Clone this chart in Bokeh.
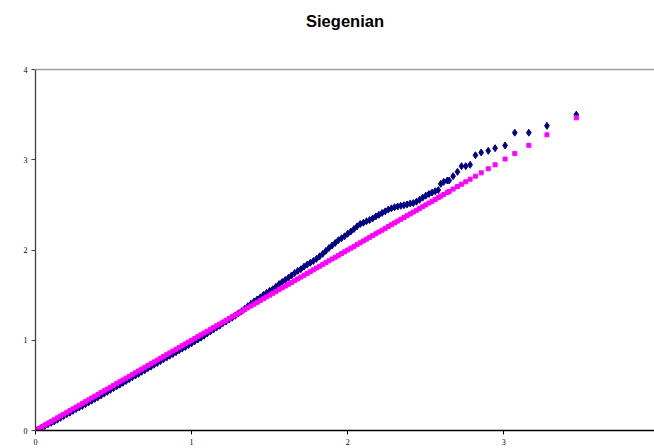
from bokeh.plotting import figure
from bokeh.models import Range1d, FixedTicker, Span, ColumnDataSource, Label
from bokeh.embed import file_html
from bokeh.resources import INLINE

title_text = "Siegenian"
x_ticks = [0, 1, 2, 3]
y_ticks = [0, 1, 2, 3, 4]

# theoretical quantiles (x)
quantiles = [
    0.00, 0.02, 0.04, 0.06, 0.08, 0.10, 0.12, 0.14, 0.16, 0.18,
    0.20, 0.22, 0.24, 0.26, 0.28, 0.30, 0.32, 0.34, 0.36, 0.38,
    0.40, 0.42, 0.44, 0.46, 0.48, 0.50, 0.52, 0.54, 0.56, 0.58,
    0.60, 0.62, 0.64, 0.66, 0.68, 0.70, 0.72, 0.74, 0.76, 0.78,
    0.80, 0.82, 0.84, 0.86, 0.88, 0.90, 0.92, 0.94, 0.96, 0.98,
    1.00, 1.02, 1.04, 1.06, 1.08, 1.10, 1.12, 1.14, 1.16, 1.18,
    1.20, 1.22, 1.24, 1.26, 1.28, 1.30, 1.32, 1.34, 1.36, 1.38,
    1.40, 1.42, 1.44, 1.46, 1.48, 1.50, 1.52, 1.54, 1.56, 1.58,
    1.60, 1.62, 1.64, 1.66, 1.68, 1.70, 1.72, 1.74, 1.76, 1.78,
    1.80, 1.82, 1.84, 1.86, 1.88, 1.90, 1.92, 1.94, 1.96, 1.98,
    2.00, 2.02, 2.04, 2.06, 2.08, 2.10, 2.12, 2.14, 2.16, 2.18,
    2.20, 2.22, 2.24, 2.26, 2.28, 2.30, 2.32, 2.34, 2.36, 2.38,
    2.40, 2.42, 2.44, 2.46, 2.48, 2.50, 2.52, 2.54, 2.56, 2.58,
    2.596, 2.615, 2.638, 2.65, 2.675, 2.703, 2.729, 2.756, 2.784, 2.818,
    2.855, 2.90, 2.944, 3.008, 3.07, 3.16, 3.276, 3.464,
]

# observed values (navy diamonds)
observed = [
    0.000, 0.010, 0.030, 0.050, 0.070, 0.085, 0.100, 0.120, 0.140, 0.160,
    0.180, 0.198, 0.218, 0.237, 0.255, 0.272, 0.292, 0.311, 0.330, 0.350,
    0.368, 0.388, 0.409, 0.428, 0.450, 0.470, 0.489, 0.508, 0.529, 0.548,
    0.569, 0.590, 0.609, 0.628, 0.650, 0.668, 0.690, 0.708, 0.729, 0.748,
    0.768, 0.790, 0.808, 0.829, 0.848, 0.868, 0.889, 0.908, 0.926, 0.947,
    0.966, 0.988, 1.008, 1.029, 1.050, 1.076, 1.096, 1.118, 1.140, 1.161,
    1.188, 1.208, 1.230, 1.250, 1.272, 1.298, 1.322, 1.348, 1.378, 1.405,
    1.430, 1.452, 1.475, 1.502, 1.525, 1.548, 1.566, 1.592, 1.622, 1.645,
    1.668, 1.692, 1.718, 1.745, 1.768, 1.788, 1.815, 1.838, 1.858, 1.878,
    1.902, 1.930, 1.958, 1.990, 2.022, 2.050, 2.078, 2.108, 2.130, 2.152,
    2.180, 2.205, 2.232, 2.262, 2.288, 2.302, 2.318, 2.332, 2.350, 2.372,
    2.390, 2.410, 2.428, 2.448, 2.462, 2.474, 2.482, 2.490, 2.496, 2.505,
    2.516, 2.520, 2.535, 2.556, 2.580, 2.602, 2.620, 2.636, 2.652, 2.664,
    2.733, 2.755, 2.770, 2.770, 2.818, 2.866, 2.929, 2.929, 2.944, 3.050,
    3.080, 3.099, 3.128, 3.158, 3.300, 3.300, 3.376, 3.500,
]

# expected values (magenta squares), equal to the quantiles
expected = list(quantiles)

src = ColumnDataSource(dict(x=quantiles, obs=observed, exp=expected))

X_END = 3.965
Y_TOP = 4 + 69 / 90.25  # extra room above the plot area for the title

p = figure(width=654, height=448, x_range=Range1d(0, X_END), y_range=Range1d(0, Y_TOP),
           output_backend="svg", toolbar_location=None, title_location=None,
           min_border_left=35, min_border_right=0, min_border_top=0, min_border_bottom=18)

p.grid.visible = False
p.outline_line_color = None
p.background_fill_color = "white"
p.border_fill_color = "white"

for ax, ticks, col in ((p.xaxis, x_ticks, "black"), (p.yaxis, y_ticks, "#404040")):
    ax.ticker = FixedTicker(ticks=ticks)
    ax.major_label_text_font = "Liberation Serif"
    ax.major_label_text_font_size = "8px"
    ax.major_label_text_color = "black"
    ax.major_tick_out = 4
    ax.major_tick_in = 0
    ax.minor_tick_line_color = None
    ax.axis_line_color = col
    ax.major_tick_line_color = col
    ax.axis_line_width = 1.3
    ax.major_label_standoff = 4
p.yaxis.bounds = (0, 4)

p.add_layout(Span(location=4, dimension="width", line_color="#a0a0a0", line_width=1.5))

p.scatter("x", "obs", source=src, marker="diamond", size=7, color="#000080")
p.scatter("x", "exp", source=src, marker="square", size=4, color="#FF00FF")

p.add_layout(Label(x=X_END / 2, y=4 + (69 - 20) / 90.25, text=title_text,
                   text_align="center", text_baseline="middle",
                   text_font="Liberation Sans", text_font_size="16.5px",
                   text_font_style="bold", text_color="black"))

open("out.html", "w").write(file_html(p, INLINE))
